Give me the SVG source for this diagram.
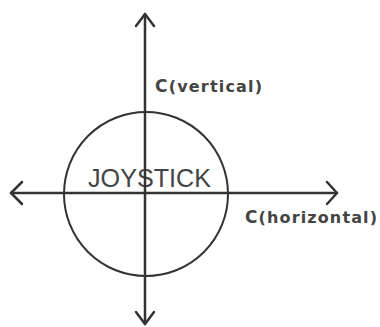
<svg xmlns="http://www.w3.org/2000/svg" width="380" height="327" viewBox="0 0 380 327">
<style>
.ax{stroke:#333;stroke-width:2.5;fill:none;stroke-linecap:round;stroke-linejoin:round}
.lbl{font-family:"DejaVu Sans",Verdana,sans-serif;font-size:16px;fill:#444;font-weight:bold}
.big{font-family:"Liberation Sans",Arial,sans-serif;font-size:25px;fill:#444}
</style>
<rect width="380" height="327" fill="#fff"/>
<g id="joystick">
<circle cx="146" cy="194" r="82" fill="none" stroke="#333" stroke-width="2"/>
<text class="big" x="88" y="187" textLength="123" lengthAdjust="spacingAndGlyphs">JOYSTICK</text>
</g>
<g id="connectors">
<line class="ax" x1="145" y1="14" x2="145" y2="324"/>
<line class="ax" x1="11" y1="193" x2="337" y2="193"/>
<polyline class="ax" points="136,26 145,14 154,26"/>
<polyline class="ax" points="136,312 145,324 154,312"/>
<polyline class="ax" points="22,182 11,193 22,204"/>
<polyline class="ax" points="327,182 337,193 327,204"/>
</g>
<g id="label-vertical">
<text class="lbl" x="155" y="92" textLength="107" lengthAdjust="spacing"><tspan font-size="17">C</tspan>(vertical)</text>
</g>
<g id="label-horizontal">
<text class="lbl" x="245" y="223" textLength="132" lengthAdjust="spacing"><tspan font-size="17">C</tspan>(horizontal)</text>
</g>
</svg>
